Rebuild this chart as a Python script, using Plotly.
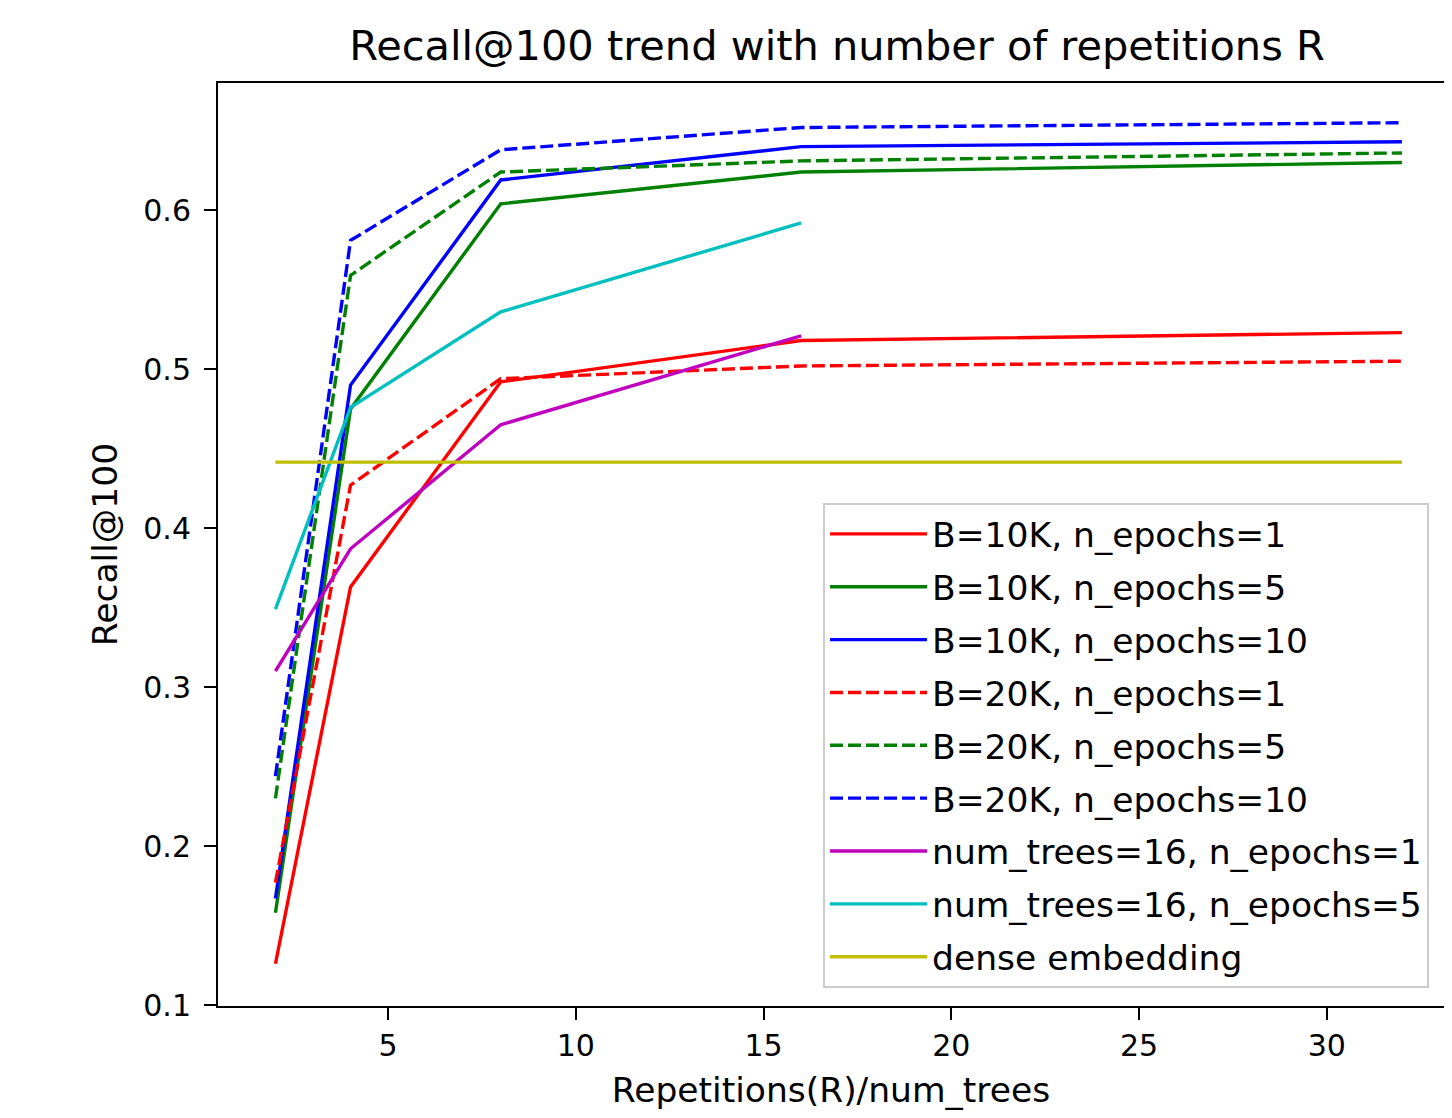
import plotly.graph_objects as go

R = [2, 4, 8, 16, 32]
R_trees = [2, 4, 8, 16]

b10k_e1 = [0.126, 0.363, 0.492, 0.518, 0.523]
b10k_e5 = [0.158, 0.475, 0.604, 0.624, 0.630]
b10k_e10 = [0.167, 0.490, 0.619, 0.640, 0.643]
b20k_e1 = [0.177, 0.427, 0.494, 0.502, 0.505]
b20k_e5 = [0.230, 0.559, 0.624, 0.631, 0.636]
b20k_e10 = [0.244, 0.581, 0.638, 0.652, 0.655]
trees16_e1 = [0.310, 0.387, 0.465, 0.521]
trees16_e5 = [0.349, 0.476, 0.536, 0.592]
dense = 0.4415

series = [
    ("B=10K, n_epochs=1", R, b10k_e1, "#ff0000", "solid"),
    ("B=10K, n_epochs=5", R, b10k_e5, "#008000", "solid"),
    ("B=10K, n_epochs=10", R, b10k_e10, "#0000ff", "solid"),
    ("B=20K, n_epochs=1", R, b20k_e1, "#ff0000", "13px,5px"),
    ("B=20K, n_epochs=5", R, b20k_e5, "#008000", "13px,5px"),
    ("B=20K, n_epochs=10", R, b20k_e10, "#0000ff", "13px,5px"),
    ("num_trees=16, n_epochs=1", R_trees, trees16_e1, "#bf00bf", "solid"),
    ("num_trees=16, n_epochs=5", R_trees, trees16_e5, "#00bfbf", "solid"),
    ("dense embedding", [R[0], R[-1]], [dense, dense], "#bfbf00", "solid"),
]

fig = go.Figure()
for i, (name, xs, ys, color, dash) in enumerate(series):
    fig.add_trace(go.Scatter(
        x=xs, y=ys, mode="lines", name=name, legendgroup=f"g{i}",
        line=dict(color=color, width=3.4, dash=dash),
    ))

font = "DejaVu Sans, Verdana, sans-serif"
W, H = 1436, 1102
fig.update_layout(
    width=W, height=H,
    margin=dict(l=210, r=0, t=75, b=104, autoexpand=False),
    paper_bgcolor="white", plot_bgcolor="white",
    font=dict(family=font, size=30, color="#000000"),
    title=dict(text="Recall@100 trend with number of repetitions R",
               x=829 / W, xanchor="center", y=1 - 37 / H, yanchor="middle",
               font=dict(size=41.5, family=font)),
    showlegend=True,
    legend=dict(x=0.4935, y=0.545, xanchor="left", yanchor="top",
                bgcolor="rgba(255,255,255,0.8)", bordercolor="#cccccc", borderwidth=2,
                font=dict(size=34.5, family=font), tracegroupgap=5, itemwidth=97),
    xaxis=dict(range=[0.47, 33.12], tickvals=[5, 10, 15, 20, 25, 30],
               automargin=False,
               showgrid=False, zeroline=False, showline=True, mirror=True,
               linecolor="black", linewidth=2, ticks="outside", ticklen=12,
               tickwidth=2, tickcolor="black",
               title=dict(text="Repetitions(R)/num_trees", standoff=25,
                          font=dict(size=34.5))),
    yaxis=dict(range=[0.0994, 0.680], tickvals=[0.1, 0.2, 0.3, 0.4, 0.5, 0.6],
               ticktext=["0.1", "0.2", "0.3", "0.4", "0.5", "0.6"],
               automargin=False,
               showgrid=False, zeroline=False, showline=True, mirror=False,
               linecolor="black", linewidth=2, ticks="outside", ticklen=12,
               tickwidth=2, tickcolor="black", ticklabelstandoff=7,
               title=dict(text="Recall@100", standoff=15, font=dict(size=34.5))),
)

fig.write_html("out.html")
